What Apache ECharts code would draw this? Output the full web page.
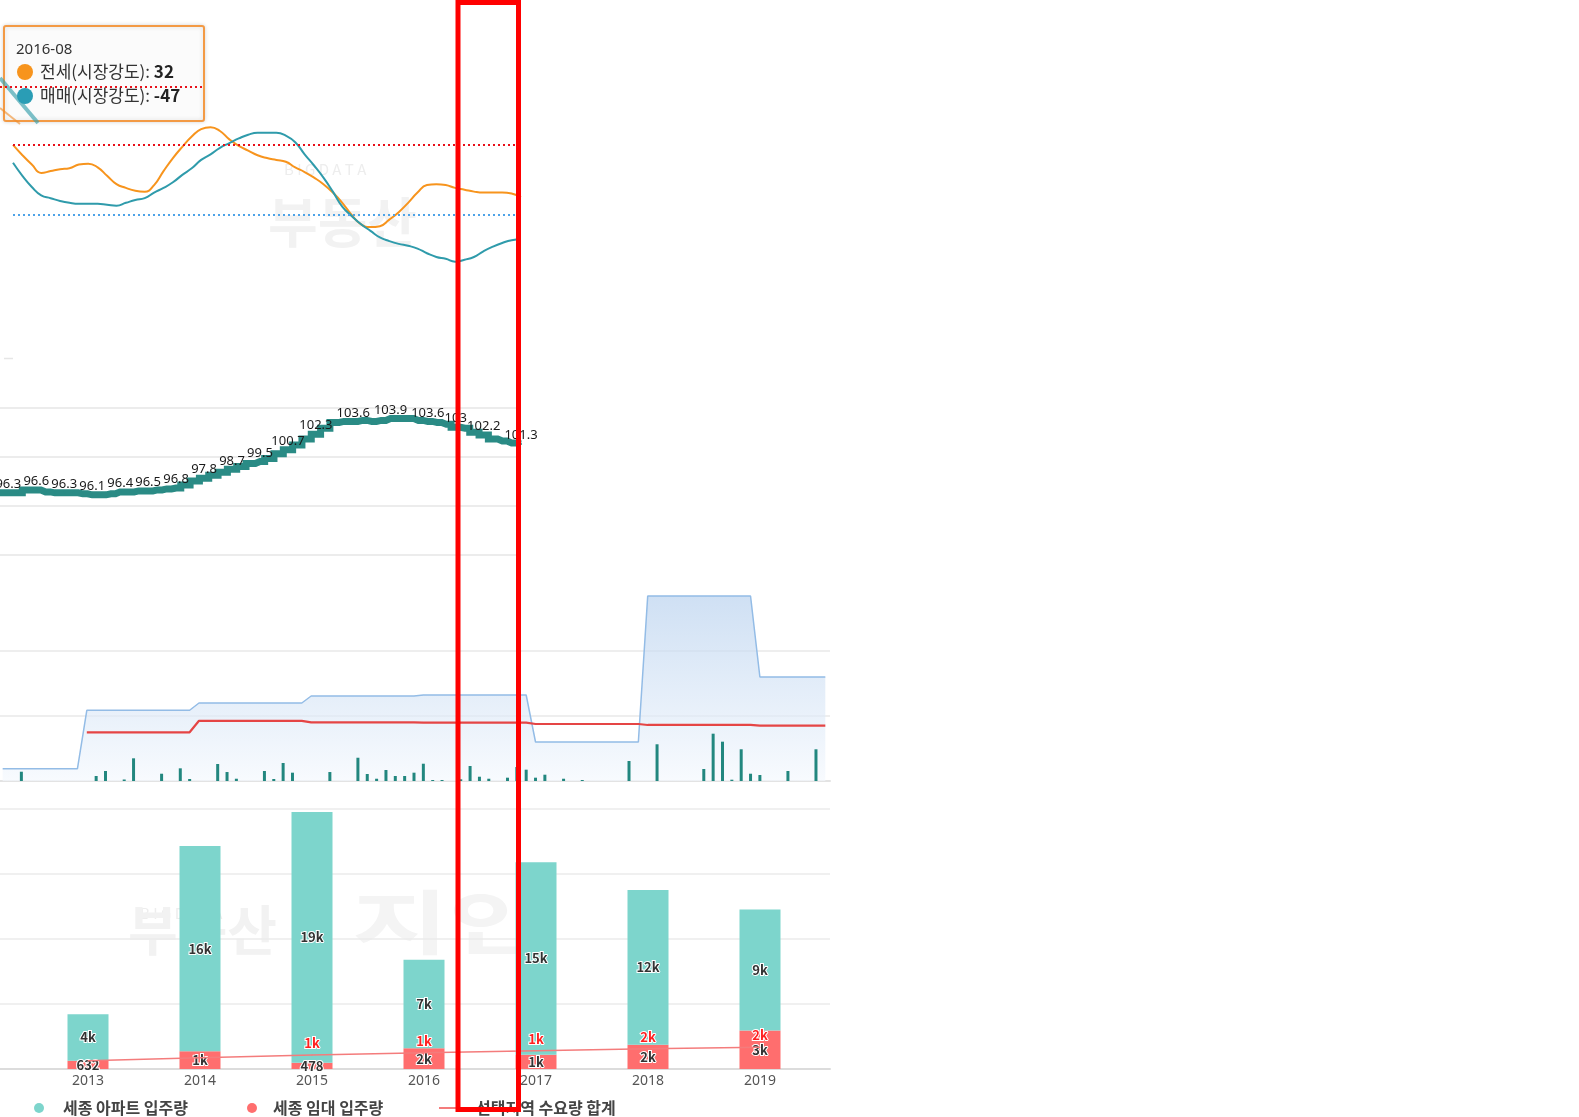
<!DOCTYPE html>
<html>
<head>
<meta charset="utf-8">
<title>세종 입주량</title>
<script src="https://cdn.jsdelivr.net/npm/echarts@6/dist/echarts.min.js"></script>
<style>
  html, body { margin: 0; padding: 0; background: #fff; }
  #main { width: 1579px; height: 1117px; }
</style>
</head>
<body>
<div id="main"></div>
<script>
// 월 라벨 만들기
function monthRange(start, n) {
  var y = +start.slice(0, 4), m = +start.slice(5, 7), out = [];
  for (var i = 0; i < n; i++) {
    out.push(y + "-" + (m < 10 ? "0" : "") + m);
    m++;
    if (m > 12) { m = 1; y++; }
  }
  return out;
}

// 시장강도 (2012-10 ~ 2017-04)
var strengthMonths = monthRange("2012-10", 55);
var jeonseStrength = [75, 64, 54, 45, 47, 49, 50, 54, 55, 51, 42, 33, 29, 26, 25, 32, 47, 61, 73, 84,
  92, 94, 90, 81, 74, 69, 64, 61, 59, 57, 51, 46, 40, 33, 24, 13, 0, -10, -13, -12,
  -5, 3, 13, 24, 32, 33, 32, 29, 27, 25, 24, 24, 24, 23, 19];
var maemaeStrength = [56, 42, 30, 21, 18, 15, 13, 12, 12, 12, 11, 10, 13, 16, 18, 24, 29, 35, 43, 50,
  59, 65, 72, 77, 82, 86, 88, 88, 88, 85, 78, 65, 53, 40, 25, 9, -1, -10, -17, -24,
  -28, -31, -33, -36, -41, -45, -47, -50, -48, -45, -39, -34, -30, -27, -26];
var upperLevel = 75;
var lowerLevel = 0;

// 가격지수 (2012-08 ~ 2017-04)
var priceMonths = monthRange("2012-08", 57);
var priceIndex = [96.3, 96.3, 96.3, 96.6, 96.6, 96.4, 96.3, 96.3, 96.3, 96.2, 96.1, 96.1, 96.2, 96.4,
  96.4, 96.5, 96.5, 96.6, 96.7, 96.8, 97.1, 97.5, 97.8, 98.1, 98.4, 98.7, 99.0, 99.3, 99.5,
  99.8, 100.3, 100.7, 101.2, 101.8, 102.3, 102.9, 103.5, 103.6, 103.6, 103.7, 103.6, 103.7,
  103.9, 103.9, 103.9, 103.7, 103.6, 103.5, 103.3, 103.0, 102.9, 102.5, 102.2, 101.8, 101.6,
  101.4, 101.3];
var priceLabelIdx = [1, 4, 7, 10, 13, 16, 19, 22, 25, 28, 31, 34, 38, 42, 46, 49, 52, 56];

// 월별 입주 / 연도별 수준 (2012-04 ~ 2019-08)
var supplyMonths = monthRange("2012-04", 89);
var levelYears = [2012, 2013, 2014, 2015, 2016, 2017, 2018, 2019];
var supplyLevel = [190, 1088, 1200, 1308, 1323, 600, 2846, 1600];
var demandLevel = [null, 749, 926, 903, 897, 877, 862, 851];
var monthlyMoveIn = [0, 0, 143, 0, 0, 0, 0, 0, 0, 0,
  77, 154, 0, 23, 349, 0, 0, 112, 0, 195,
  31, 0, 0, 262, 138, 35, 0, 0, 154, 31,
  277, 128, 0, 0, 0, 138, 0, 0, 358, 108,
  35, 169, 77, 77, 128, 266, 15, 15, 0, 26,
  231, 66, 35, 0, 51, 215, 174, 51, 97, 0,
  35, 0, 15, 0, 0, 0, 0, 308, 0, 0,
  565, 0, 0, 0, 0, 185, 728, 605, 20, 488,
  112, 92, 0, 0, 154, 0, 0, 488, 0];

// 연도별 입주량
var years = ["2013", "2014", "2015", "2016", "2017", "2018", "2019"];
var aptMoveIn = [3580, 15800, 19290, 6800, 14800, 11900, 9300];
var rentalMoveIn = [632, 1360, 478, 1600, 1100, 1870, 2970];
var demandTotal = [640, 870, 1077, 1256, 1410, 1564, 1667];

var FONT = "'Noto Sans CJK KR', 'Noto Sans', sans-serif";

function fmtK(v) {
  return v >= 1000 ? Math.round(v / 1000) + "k" : String(v);
}
function levelOf(arr) {
  return supplyMonths.map(function (m) {
    return arr[levelYears.indexOf(+m.slice(0, 4))];
  });
}

var chart = echarts.init(document.getElementById("main"));

var barLabel = {
  show: true,
  position: "inside",
  color: "#333",
  fontSize: 13,
  fontWeight: "bold",
  fontFamily: FONT,
  textBorderColor: "#fff",
  textBorderWidth: 2,
  formatter: function (p) { return fmtK(p.value); }
};

var legendText = { color: "#444", fontSize: 16, fontWeight: "bold", fontFamily: FONT };

var option = {
  animation: false,
  textStyle: { fontFamily: FONT },
  grid: [
    { left: 13, top: 28.3, width: 508, height: 280, outerBoundsMode: "none" },
    { left: -1, top: 358.8, width: 522, height: 195.7, outerBoundsMode: "none" },
    { left: -2, top: 586, width: 832, height: 195, outerBoundsMode: "none" },
    { left: 32, top: 809, width: 784, height: 260, outerBoundsMode: "none" },
    { left: 0, top: 809, width: 830, height: 260, outerBoundsMode: "none" }
  ],
  xAxis: [
    { gridIndex: 0, type: "category", data: strengthMonths, boundaryGap: false, show: false },
    { gridIndex: 1, type: "category", data: priceMonths, boundaryGap: false, show: false },
    {
      gridIndex: 2, type: "category", data: supplyMonths,
      axisLine: { lineStyle: { color: "#e3e3e3", width: 2 } },
      axisTick: { show: false }, axisLabel: { show: false }
    },
    {
      gridIndex: 3, type: "category", data: years,
      axisLine: { show: false }, axisTick: { show: false },
      axisLabel: { color: "#555", fontSize: 14, margin: 5, fontFamily: "'Noto Sans', sans-serif" }
    },
    {
      gridIndex: 4, type: "value", min: 0, max: 1,
      axisLine: { show: true, lineStyle: { color: "#dcdcdc", width: 2 } },
      axisTick: { show: false }, axisLabel: { show: false }, splitLine: { show: false }
    }
  ],
  yAxis: [
    { gridIndex: 0, type: "value", min: -100, max: 200, show: false },
    {
      gridIndex: 1, type: "value", min: 90, max: 110, interval: 5,
      axisLine: { show: false }, axisTick: { show: false }, axisLabel: { show: false },
      splitLine: { show: true, showMaxLine: false, lineStyle: { color: "#e6e6e6", width: 1.5 } }
    },
    {
      gridIndex: 2, type: "value", min: 0, max: 3000, interval: 1000,
      axisLine: { show: false }, axisTick: { show: false }, axisLabel: { show: false },
      splitLine: { show: true, showMaxLine: false, lineStyle: { color: "#e8e8e8", width: 1.5 } }
    },
    { gridIndex: 3, type: "value", min: 0, max: 20000, interval: 5000, show: false },
    {
      gridIndex: 4, type: "value", min: 0, max: 20000, interval: 5000,
      axisLine: { show: false }, axisTick: { show: false }, axisLabel: { show: false },
      splitLine: { show: true, lineStyle: { color: "#ebebeb", width: 1.5 } }
    }
  ],
  legend: [
    {
      data: ["세종 아파트 입주량"], left: 29, top: 1095, icon: "circle",
      itemWidth: 18, itemHeight: 10, selectedMode: false,
      textStyle: Object.assign({ padding: [0, 0, 0, 10] }, legendText)
    },
    {
      data: ["세종 임대 입주량"], left: 242, top: 1095, icon: "circle",
      itemWidth: 18, itemHeight: 10, selectedMode: false,
      textStyle: Object.assign({ padding: [0, 0, 0, 7] }, legendText)
    },
    {
      data: ["선택지역 수요량 합계"], left: 434, top: 1095, icon: "rect",
      itemWidth: 28, itemHeight: 2, selectedMode: false,
      textStyle: Object.assign({ padding: [0, 0, 0, 4] }, legendText)
    }
  ],
  series: [
    {
      name: "전세(시장강도)", type: "line", xAxisIndex: 0, yAxisIndex: 0,
      data: jeonseStrength, smooth: true, showSymbol: false,
      lineStyle: { color: "#f7941d", width: 2 }, itemStyle: { color: "#f7941d" },
      markLine: {
        silent: true, symbol: "none", label: { show: false },
        data: [{ yAxis: upperLevel, lineStyle: { color: "#e8101a", type: [2, 3], width: 2 } }]
      }
    },
    {
      name: "매매(시장강도)", type: "line", xAxisIndex: 0, yAxisIndex: 0,
      data: maemaeStrength, smooth: true, showSymbol: false,
      lineStyle: { color: "#2f9bab", width: 2 }, itemStyle: { color: "#2f9bab" },
      markLine: {
        silent: true, symbol: "none", label: { show: false },
        data: [{ yAxis: lowerLevel, lineStyle: { color: "#4da3e8", type: [2, 3], width: 2 } }]
      }
    },
    {
      name: "가격지수", type: "line", xAxisIndex: 1, yAxisIndex: 1, step: "middle",
      symbol: "circle", symbolSize: 2,
      data: priceIndex.map(function (v, i) {
        return { value: v, label: { show: priceLabelIdx.indexOf(i) >= 0 } };
      }),
      lineStyle: { color: "#2a8b85", width: 7, cap: "butt", join: "miter" },
      itemStyle: { color: "#2a8b85" },
      label: {
        show: false, position: "top", distance: 1, color: "#1a1a1a",
        fontSize: 13, fontFamily: "'Noto Sans', sans-serif"
      }
    },
    {
      name: "공급 수준", type: "line", xAxisIndex: 2, yAxisIndex: 2,
      data: levelOf(supplyLevel), showSymbol: false, z: 1,
      lineStyle: { color: "#93bce6", width: 1.5 }, itemStyle: { color: "#93bce6" },
      areaStyle: {
        color: new echarts.graphic.LinearGradient(0, 0, 0, 1, [
          { offset: 0, color: "#bad2ee" },
          { offset: 1, color: "#f4f8fd" }
        ])
      }
    },
    {
      name: "수요 수준", type: "line", xAxisIndex: 2, yAxisIndex: 2,
      data: levelOf(demandLevel), showSymbol: false,
      lineStyle: { color: "#e54545", width: 2.2 }, itemStyle: { color: "#e54545" }
    },
    {
      name: "월별 입주량", type: "bar", xAxisIndex: 2, yAxisIndex: 2,
      data: monthlyMoveIn, barWidth: 3, itemStyle: { color: "#22877f" }
    },
    {
      name: "세종 임대 입주량", type: "bar", xAxisIndex: 3, yAxisIndex: 3, stack: "total",
      data: rentalMoveIn, barWidth: 41, itemStyle: { color: "#ff6e6e" }, label: barLabel
    },
    {
      name: "세종 아파트 입주량", type: "bar", xAxisIndex: 3, yAxisIndex: 3, stack: "total",
      data: aptMoveIn, barWidth: 41, itemStyle: { color: "#7dd5cc" }, label: barLabel
    },
    {
      name: "선택지역 수요량 합계", type: "line", xAxisIndex: 3, yAxisIndex: 3,
      data: demandTotal, symbol: "circle", symbolSize: 1, z: 5,
      lineStyle: { color: "#f47c7c", width: 1.5 }, itemStyle: { color: "#f47c7c" },
      label: {
        show: true, position: "top", color: "#ff2020", fontSize: 13, fontWeight: "bold",
        textBorderColor: "#fff", textBorderWidth: 2,
        formatter: function (p) { return p.value >= 1000 ? fmtK(p.value) : ""; }
      }
    }
  ],
  graphic: [
    // 워터마크
    { type: "text", x: 284, y: 169, z: 0, style: { text: "B I G D A T A", font: "15px " + FONT, fill: "#ededed", verticalAlign: "middle" } },
    { type: "text", x: 268, y: 222, z: 0, style: { text: "부동산", font: "bold 54px " + FONT, fill: "#f2f2f2", verticalAlign: "middle" } },
    { type: "text", x: 140, y: 913, z: 0, style: { text: "B I G D A T A", font: "15px " + FONT, fill: "#ededed", verticalAlign: "middle" } },
    { type: "text", x: 128, y: 930, z: 0, style: { text: "부동산", font: "bold 54px " + FONT, fill: "#f2f2f2", verticalAlign: "middle" } },
    { type: "text", x: 352, y: 922, z: 0, scaleX: 1.5, style: { text: "지인", font: "bold 70px " + FONT, fill: "#f4f4f4", verticalAlign: "middle" } },
    { type: "line", z: 0, shape: { x1: 4, y1: 358.5, x2: 13, y2: 358.5 }, style: { stroke: "#e6e6e6", lineWidth: 1.5 } },
    // 툴팁
    {
      type: "group", z: 100,
      children: [
        { type: "rect", shape: { x: 4, y: 26, width: 200, height: 95, r: 2 }, style: { fill: "rgba(252,252,252,0.97)", stroke: "#f39a45", lineWidth: 2, shadowBlur: 4, shadowColor: "rgba(0,0,0,0.15)" } },
        { type: "line", shape: { x1: 0, y1: 78, x2: 38, y2: 123 }, style: { stroke: "rgba(56,160,172,0.65)", lineWidth: 4 } },
        { type: "line", shape: { x1: 0, y1: 108, x2: 20, y2: 124 }, style: { stroke: "rgba(240,140,40,0.6)", lineWidth: 2 } },
        { type: "line", shape: { x1: 0, y1: 87, x2: 205, y2: 87 }, style: { stroke: "#e8101a", lineWidth: 2, lineDash: [2, 3] } },
        { type: "text", x: 16, y: 50, style: { text: "2016-08", font: "15px 'Noto Sans', sans-serif", fill: "#333", verticalAlign: "middle" } },
        { type: "circle", shape: { cx: 25, cy: 72, r: 8 }, style: { fill: "#f7941d" } },
        { type: "circle", shape: { cx: 25, cy: 96, r: 8 }, style: { fill: "#2a9db5" } },
        {
          type: "text", x: 40, y: 72,
          style: {
            text: "{n|전세(시장강도): }{v|32}", verticalAlign: "middle",
            rich: { n: { fontSize: 17, fontFamily: FONT, fill: "#333" }, v: { fontSize: 17, fontFamily: FONT, fontWeight: "bold", fill: "#222" } }
          }
        },
        {
          type: "text", x: 40, y: 96,
          style: {
            text: "{n|매매(시장강도): }{v|-47}", verticalAlign: "middle",
            rich: { n: { fontSize: 17, fontFamily: FONT, fill: "#333" }, v: { fontSize: 17, fontFamily: FONT, fontWeight: "bold", fill: "#222" } }
          }
        }
      ]
    },
    // 선택 영역 표시
    { type: "rect", z: 200, shape: { x: 458, y: 2.5, width: 60.5, height: 1107 }, style: { fill: "none", stroke: "#ff0000", lineWidth: 5 } }
  ]
};

chart.setOption(option);
</script>
</body>
</html>
